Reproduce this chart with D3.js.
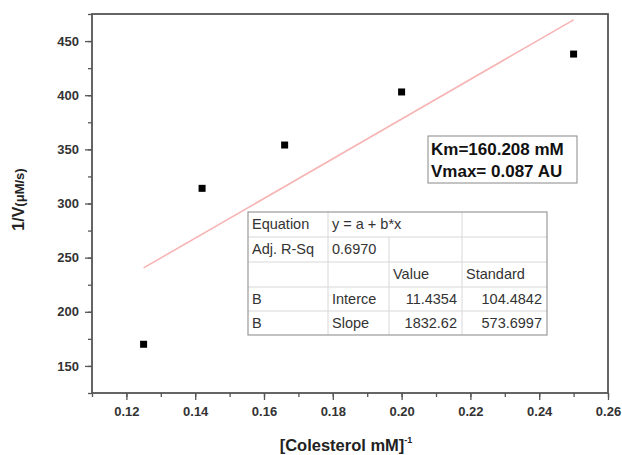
<!DOCTYPE html>
<html>
<head>
<meta charset="utf-8">
<script src="https://cdn.jsdelivr.net/npm/d3@7"></script>
<style>
  body { margin: 0; background: #fff; }
  text { font-family: "Liberation Sans", Arial, sans-serif; }
</style>
</head>
<body>
<svg width="622" height="455"></svg>
<script>
const xVals = [0.125, 0.142, 0.166, 0.2, 0.25];
const yVals = [170, 314, 354, 403, 438];
const fitIntercept = 11.4354;
const fitSlope = 1832.62;
const xTicks = [0.12, 0.14, 0.16, 0.18, 0.20, 0.22, 0.24, 0.26];
const yTicks = [150, 200, 250, 300, 350, 400, 450];
const tableRows = [
  ["Equation", "y = a + b*x", null, ""],
  ["Adj. R-Sq", "0.6970", "", ""],
  ["", "", "Value", "Standard"],
  ["B", "Interce", "11.4354", "104.4842"],
  ["B", "Slope", "1832.62", "573.6997"]
];
const kmText = ["Km=160.208 mM", "Vmax= 0.087 AU"];

const margin = { top: 14, right: 14, bottom: 62, left: 92 };
const width = 622 - margin.left - margin.right;
const height = 455 - margin.top - margin.bottom;

const svg = d3.select("svg");
const g = svg.append("g").attr("transform", `translate(${margin.left},${margin.top})`);

const x = d3.scaleLinear().domain([0.11, 0.26]).range([0, width]);
const y = d3.scaleLinear().domain([125, 475]).range([height, 0]);

const axisColor = "#555";

// minor ticks
g.append("g")
  .attr("transform", `translate(0,${height})`)
  .call(d3.axisBottom(x).tickValues(d3.range(0.11, 0.2601, 0.01)).tickSize(4).tickFormat(""))
  .call(a => a.select(".domain").remove())
  .selectAll("line").attr("stroke", axisColor).attr("stroke-width", 1.3);
g.append("g")
  .call(d3.axisLeft(y).tickValues(d3.range(125, 476, 25)).tickSize(4).tickFormat(""))
  .call(a => a.select(".domain").remove())
  .selectAll("line").attr("stroke", axisColor).attr("stroke-width", 1.3);

// major ticks
const xAxis = g.append("g")
  .attr("transform", `translate(0,${height})`)
  .call(d3.axisBottom(x).tickValues(xTicks).tickSize(7).tickPadding(7).tickFormat(d3.format(".2f")));
const yAxis = g.append("g")
  .call(d3.axisLeft(y).tickValues(yTicks).tickSize(7).tickPadding(6));

[xAxis, yAxis].forEach(a => {
  a.select(".domain").remove();
  a.selectAll("line").attr("stroke", axisColor).attr("stroke-width", 1.3);
  a.selectAll("text")
    .attr("fill", "#333")
    .style("font-size", "13px")
    .style("font-weight", "bold");
});

// frame
g.append("rect")
  .attr("width", width).attr("height", height)
  .attr("fill", "none").attr("stroke", axisColor).attr("stroke-width", 1.8);

// fit line
const fitX = [d3.min(xVals), d3.max(xVals)];
g.append("line")
  .attr("x1", x(fitX[0])).attr("y1", y(fitIntercept + fitSlope * fitX[0]))
  .attr("x2", x(fitX[1])).attr("y2", y(fitIntercept + fitSlope * fitX[1]))
  .attr("stroke", "#f7b4b4").attr("stroke-width", 1.6);

// points
g.selectAll(".pt")
  .data(xVals.map((d, i) => [d, yVals[i]]))
  .enter().append("rect")
  .attr("class", "pt")
  .attr("x", d => x(d[0]) - 3.5).attr("y", d => y(d[1]) - 3.5)
  .attr("width", 7).attr("height", 7)
  .attr("fill", "#000");

// Km box
const kmG = svg.append("g").attr("transform", "translate(428,136)");
kmG.append("rect").attr("width", 149).attr("height", 47)
  .attr("fill", "#fff").attr("stroke", "#888").attr("stroke-width", 1);
kmG.selectAll("text").data(kmText).enter().append("text")
  .attr("x", 3).attr("y", (d, i) => 19 + i * 22)
  .style("font-size", "17px").style("font-weight", "bold")
  .attr("fill", "#111")
  .text(d => d);

// table
const colX = [248, 328, 389, 462, 547];
const rowY = [212, 237, 262, 287, 311, 335];
const tg = svg.append("g");
tg.append("rect")
  .attr("x", colX[0]).attr("y", rowY[0])
  .attr("width", colX[4] - colX[0]).attr("height", rowY[5] - rowY[0])
  .attr("fill", "#fff");
// horizontal inner lines
rowY.slice(1, 5).forEach(ry => {
  tg.append("line").attr("x1", colX[0]).attr("x2", colX[4]).attr("y1", ry).attr("y2", ry)
    .attr("stroke", "#d8d8d8").attr("stroke-width", 1);
});
// vertical inner lines
tableRows.forEach((row, r) => {
  [1, 2, 3].forEach(c => {
    if (c === 2 && row[2] === null) return;
    tg.append("line").attr("x1", colX[c]).attr("x2", colX[c])
      .attr("y1", rowY[r]).attr("y2", rowY[r + 1])
      .attr("stroke", "#d8d8d8").attr("stroke-width", 1);
  });
});
tg.append("rect")
  .attr("x", colX[0]).attr("y", rowY[0])
  .attr("width", colX[4] - colX[0]).attr("height", rowY[5] - rowY[0])
  .attr("fill", "none").attr("stroke", "#999").attr("stroke-width", 1.2);
tableRows.forEach((row, r) => {
  row.forEach((cell, c) => {
    if (!cell) return;
    const right = r >= 3 && c >= 2;
    tg.append("text")
      .attr("x", right ? colX[c + 1] - 5 : colX[c] + 4)
      .attr("y", rowY[r] + 17)
      .attr("text-anchor", right ? "end" : "start")
      .attr("fill", "#333")
      .style("font-size", "14.5px")
      .text(cell);
  });
});

// axis labels
svg.append("text")
  .attr("transform", `translate(24,${margin.top + height / 2 - 4}) rotate(-90)`)
  .attr("text-anchor", "middle")
  .style("font-weight", "bold").style("font-size", "16px").attr("fill", "#222")
  .call(t => {
    t.append("tspan").text("1/V");
    t.append("tspan").style("font-size", "13px").text("(μM/s)");
  });

svg.append("text")
  .attr("x", 346).attr("y", 451)
  .attr("text-anchor", "middle")
  .style("font-weight", "bold").style("font-size", "16.5px").attr("fill", "#222")
  .call(t => {
    t.append("tspan").text("[Colesterol mM]");
    t.append("tspan").attr("dy", -8).style("font-size", "9px").text("-1");
  });
</script>
</body>
</html>
